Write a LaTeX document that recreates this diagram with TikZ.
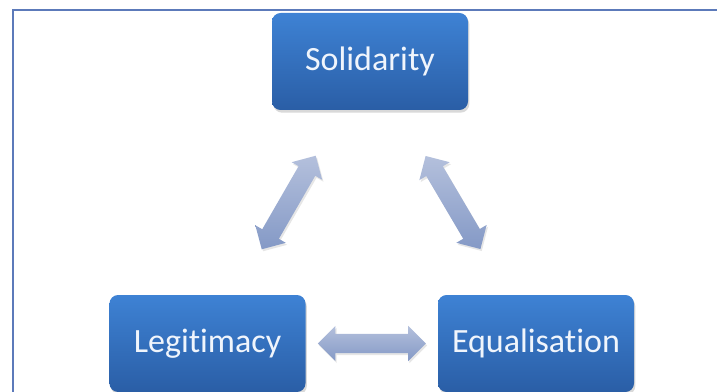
\documentclass[tikz,border=0pt]{standalone}
\usepackage{fontspec}
\setmainfont{Carlito}[Ligatures = NoCommon]
\usetikzlibrary{shapes.arrows,shadows}
\definecolor{boxtop}{RGB}{62,130,212}
\definecolor{boxbottom}{RGB}{42,94,166}
\definecolor{boxtext}{RGB}{240,245,252}
\definecolor{arrowtop}{RGB}{180,192,220}
\definecolor{arrowbottom}{RGB}{132,153,198}
\definecolor{framecol}{RGB}{92,122,186}

\begin{document}
\begin{tikzpicture}
[
    x = 0.75pt, y = -0.75pt,
    box/.style = {rounded corners = 6.5pt, minimum width = 147pt, minimum height = 72.75pt,
        top color = boxtop, bottom color = boxbottom, text = boxtext,
        font = \fontsize{25.5}{30}\selectfont,
        drop shadow = {opacity = 0.3, shadow xshift = 1pt, shadow yshift = -2pt}},
    link/.style = {double arrow, sloped, minimum height = 81pt, inner sep = 0pt,
        inner ysep = 7pt, double arrow head extend = 6pt,
        top color = arrowtop, bottom color = arrowbottom,
        drop shadow = {opacity = 0.2, shadow xshift = 1pt, shadow yshift = -1.5pt}}
]
\useasboundingbox (0,0) rectangle (717,392);
\draw[framecol, line width = 1.5pt] (13,392) -- (13,10) -- (717,10);

\node[box] (solidarity) at (370,61.5) {Solidarity};
\node[box] (legitimacy) at (207.5,343.5) {Legitimacy};
\node[box] (equalisation) at (536,343.5) {Equalisation};

\path (solidarity) -- node[link] (solleg) {} (legitimacy);
\path (solidarity) -- node[link] (soleq) {} (equalisation);
\path (legitimacy) -- node[link] (legeq) {} (equalisation);
\end{tikzpicture}
\end{document}
